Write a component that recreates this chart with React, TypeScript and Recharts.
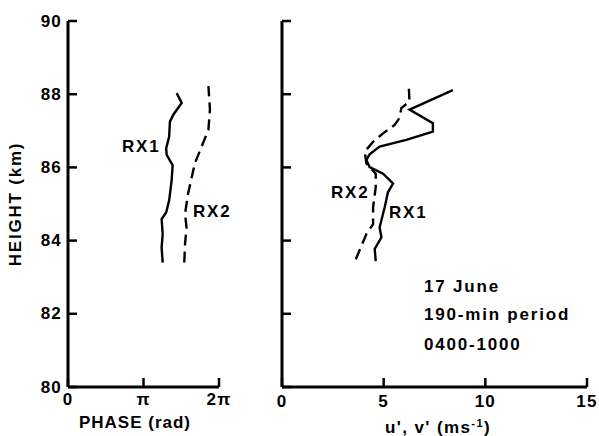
import React from "react";
import { ScatterChart, Scatter, XAxis, YAxis } from "recharts";

// left panel: phase (in units of pi) vs height (km)
const phaseRx1 = [1.254, 1.24, 1.254, 1.24, 1.3, 1.34, 1.373, 1.386, 1.307, 1.3, 1.34, 1.35, 1.395, 1.506, 1.44];
const phaseRx1Height = [83.4, 83.81, 84.18, 84.59, 84.77, 85.1, 85.65, 86.06, 86.34, 86.52, 86.84, 87.25, 87.44, 87.76, 88.03];
const phaseRx2 = [1.54, 1.55, 1.57, 1.55, 1.59, 1.64, 1.68, 1.77, 1.86, 1.88, 1.86];
const phaseRx2Height = [83.4, 83.9, 84.36, 84.73, 85.28, 85.74, 86.11, 86.57, 87.03, 87.58, 88.22];

// right panel: wind amplitude u', v' (m/s) vs height (km)
const ampRx1 = [4.61, 4.56, 4.89, 4.8, 5.05, 5.21, 5.46, 4.97, 4.31, 4.15, 4.31, 4.8, 6.11, 7.42, 7.42, 6.27, 8.4];
const ampRx1Height = [83.44, 83.77, 84.09, 84.36, 84.91, 85.32, 85.56, 85.83, 86.01, 86.2, 86.36, 86.57, 86.75, 86.98, 87.21, 87.58, 88.11];
const ampRx2 = [3.63, 3.91, 4.15, 4.48, 4.48, 4.61, 4.61, 4.15, 4.07, 4.48, 4.97, 5.54, 5.78, 5.87, 6.27, 6.24];
const ampRx2Height = [83.49, 83.86, 84.18, 84.45, 84.91, 85.46, 85.83, 86.11, 86.43, 86.7, 86.93, 87.16, 87.35, 87.62, 87.8, 88.15];

const heightTicks = [80, 82, 84, 86, 88, 90];
const phaseTicks = [0, 1, 2];
const phaseTickLabels = ["0", "π", "2π"];
const ampTicks = [0, 5, 10, 15];

const FONT = '"Liberation Sans", Arial, Helvetica, sans-serif';
const textStyle: React.CSSProperties = {
  fontFamily: FONT,
  fontWeight: 700,
  fontSize: 17,
  letterSpacing: 1.8,
  color: "#000",
  lineHeight: "18px",
  whiteSpace: "nowrap",
  position: "absolute",
};

const toPts = (xs: number[], hs: number[]) => xs.map((x, i) => ({ x, h: hs[i] }));

const NoDot = () => <g />;

function YTick(props: any) {
  const { x, y, payload, showLabel } = props;
  return (
    <g>
      <line x1={x} y1={y} x2={x + 9} y2={y} stroke="#000" strokeWidth={2.5} />
      {showLabel ? (
        <text
          x={x - 6}
          y={y}
          textAnchor="end"
          dominantBaseline="central"
          fontFamily={FONT}
          fontWeight={700}
          fontSize={17}
          letterSpacing={1.2}
          fill="#000"
        >
          {payload.value}
        </text>
      ) : null}
    </g>
  );
}

function XTick(props: any) {
  const { x, y, payload, labels, dy } = props;
  const idx = props.index ?? 0;
  const txt = labels ? labels[idx] : String(payload.value);
  return (
    <g>
      <line x1={x} y1={y} x2={x} y2={y - 9} stroke="#000" strokeWidth={2.5} />
      <text
        x={x}
        y={y + dy}
        textAnchor="middle"
        dominantBaseline="central"
        fontFamily={FONT}
        fontWeight={700}
        fontSize={17}
        letterSpacing={1.2}
        fill="#000"
      >
        {txt}
      </text>
    </g>
  );
}

const axisLine = { stroke: "#000", strokeWidth: 3 };
const solid = { stroke: "#000", strokeWidth: 2.4, fill: "none" };
const dashed = { stroke: "#000", strokeWidth: 2.4, fill: "none", strokeDasharray: "11 6" };

export default function App() {
  return (
    <div style={{ position: "absolute", left: 0, top: 0, width: 599, height: 436, background: "#fff", overflow: "hidden" }}>
      <div style={{ position: "absolute", left: 0, top: 0 }}>
        <ScatterChart width={250} height={436} margin={{ top: 21, right: 31, bottom: 0, left: 0 }}>
          <XAxis
            type="number"
            dataKey="x"
            domain={[0, 2]}
            ticks={phaseTicks}
            interval={0}
            height={49}
            tickSize={0}
            tickMargin={0}
            tickLine={false}
            axisLine={axisLine}
            tick={<XTick labels={phaseTickLabels} dy={12} />}
          />
          <YAxis
            type="number"
            dataKey="h"
            domain={[80, 90]}
            ticks={heightTicks}
            interval={0}
            width={68}
            tickSize={0}
            tickMargin={0}
            tickLine={false}
            axisLine={axisLine}
            tick={<YTick showLabel />}
          />
          <Scatter data={toPts(phaseRx1, phaseRx1Height)} line={solid} shape={NoDot} isAnimationActive={false} />
          <Scatter data={toPts(phaseRx2, phaseRx2Height)} line={dashed} shape={NoDot} isAnimationActive={false} />
        </ScatterChart>
      </div>
      <div style={{ position: "absolute", left: 250, top: 0 }}>
        <ScatterChart width={349} height={436} margin={{ top: 21, right: 12, bottom: 0, left: 0 }}>
          <XAxis
            type="number"
            dataKey="x"
            domain={[0, 15]}
            ticks={ampTicks}
            interval={0}
            height={49}
            tickSize={0}
            tickMargin={0}
            tickLine={false}
            axisLine={axisLine}
            tick={<XTick dy={14} />}
          />
          <YAxis
            type="number"
            dataKey="h"
            domain={[80, 90]}
            ticks={heightTicks}
            interval={0}
            width={32}
            tickSize={0}
            tickMargin={0}
            tickLine={false}
            axisLine={axisLine}
            tick={<YTick showLabel={false} />}
          />
          <Scatter data={toPts(ampRx1, ampRx1Height)} line={solid} shape={NoDot} isAnimationActive={false} />
          <Scatter data={toPts(ampRx2, ampRx2Height)} line={dashed} shape={NoDot} isAnimationActive={false} />
        </ScatterChart>
      </div>

      {/* axis titles */}
      <div
        style={{
          ...textStyle,
          left: 16,
          top: 204,
          transform: "translate(-50%, -50%) rotate(-90deg)",
          letterSpacing: 1.8,
        }}
      >
        HEIGHT (km)
      </div>
      <div style={{ ...textStyle, left: 135, top: 414, transform: "translateX(-50%)", letterSpacing: 1 }}>
        PHASE (rad)
      </div>
      <div style={{ ...textStyle, left: 438, top: 414, transform: "translateX(-50%)", letterSpacing: 1.4 }}>
        u', v' (ms<span style={{ fontSize: 11, verticalAlign: 6 }}>-1</span>)
      </div>

      {/* curve labels */}
      <div style={{ ...textStyle, left: 122, top: 138 }}>RX1</div>
      <div style={{ ...textStyle, left: 193, top: 203 }}>RX2</div>
      <div style={{ ...textStyle, left: 331, top: 184 }}>RX2</div>
      <div style={{ ...textStyle, left: 389, top: 204 }}>RX1</div>

      {/* annotation */}
      <div style={{ ...textStyle, left: 424, top: 278 }}>17 June</div>
      <div style={{ ...textStyle, left: 424, top: 306 }}>190-min period</div>
      <div style={{ ...textStyle, left: 424, top: 336 }}>0400-1000</div>
    </div>
  );
}
